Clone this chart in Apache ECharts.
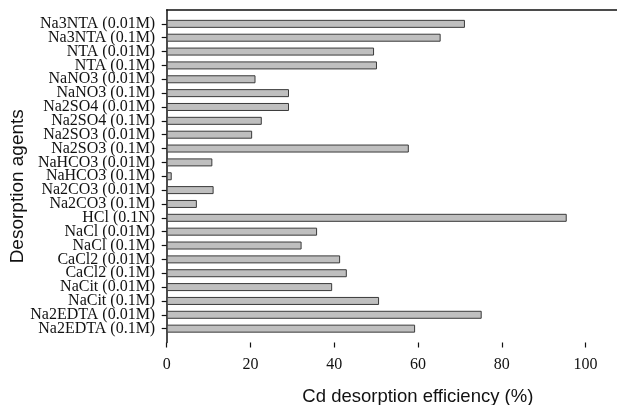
<!DOCTYPE html>
<html>
<head>
<meta charset="utf-8">
<title>Cd desorption</title>
<script src="https://cdn.jsdelivr.net/npm/echarts@6/dist/echarts.min.js"></script>
<style>
  html, body { margin: 0; padding: 0; background: #fff; }
</style>
</head>
<body>
<div id="main" style="width: 617px; height: 405px;"></div>
<script type="text/javascript">
  // agents, top to bottom
  var agents = [
    'Na3NTA (0.01M)', 'Na3NTA (0.1M)', 'NTA (0.01M)', 'NTA (0.1M)',
    'NaNO3 (0.01M)', 'NaNO3 (0.1M)', 'Na2SO4 (0.01M)', 'Na2SO4 (0.1M)',
    'Na2SO3 (0.01M)', 'Na2SO3 (0.1M)', 'NaHCO3 (0.01M)', 'NaHCO3 (0.1M)',
    'Na2CO3 (0.01M)', 'Na2CO3 (0.1M)', 'HCl (0.1N)', 'NaCl (0.01M)',
    'NaCl (0.1M)', 'CaCl2 (0.01M)', 'CaCl2 (0.1M)', 'NaCit (0.01M)',
    'NaCit (0.1M)', 'Na2EDTA (0.01M)', 'Na2EDTA (0.1M)'
  ];
  // Cd desorption efficiency (%)
  var efficiency = [
    71.2, 65.4, 49.5, 50.2,
    21.2, 29.2, 29.2, 22.7,
    20.4, 57.8, 10.9, 1.2,
    11.2, 7.2, 95.5, 35.9,
    32.2, 41.4, 43.0, 39.5,
    50.7, 75.2, 59.3
  ];
  var xTicks = [0, 20, 40, 60, 80, 100];

  // empty slot at each end gives the gap above the first and below the last bar
  var yCats = [''].concat(agents, ['']);
  var barData = efficiency.map(function (v, i) { return [v, i + 1]; });

  var myChart = echarts.init(document.getElementById('main'));
  myChart.setOption({
    animation: false,
    grid: { left: 166.7, top: 10, right: 0, bottom: 62.5, outerBoundsMode: 'none', containLabel: false },
    xAxis: [{
      type: 'value',
      position: 'bottom',
      min: 0,
      max: 107.5,
      interval: 20,
      name: 'Cd desorption efficiency (%)',
      nameLocation: 'middle',
      nameGap: 45,
      nameMoveOverlap: false,
      nameTextStyle: {
        fontFamily: 'Liberation Sans', fontSize: 18.5, color: '#111',
        padding: [0, 0, 0, 52]
      },
      splitLine: { show: false },
      axisLine: { lineStyle: { color: '#111', width: 1.5 } },
      axisTick: { show: true, length: 5, customValues: xTicks, lineStyle: { color: '#111', width: 1.2 } },
      axisLabel: {
        customValues: xTicks,
        margin: 14,
        fontFamily: 'Liberation Serif', fontSize: 16, color: '#111'
      }
    }, {
      type: 'value',
      position: 'top',
      min: 0,
      max: 107.5,
      axisLine: { show: true, lineStyle: { color: '#111', width: 1.5 } },
      axisTick: { show: false },
      axisLabel: { show: false },
      splitLine: { show: false }
    }],
    yAxis: {
      type: 'category',
      data: yCats,
      inverse: true,
      boundaryGap: false,
      name: 'Desorption agents',
      nameLocation: 'middle',
      nameGap: 139,
      nameMoveOverlap: false,
      nameRotate: 90,
      nameTextStyle: {
        fontFamily: 'Liberation Sans', fontSize: 19, color: '#111',
        padding: [0, 20, 0, 0]
      },
      splitLine: { show: false },
      axisLine: { lineStyle: { color: '#111', width: 1.5 } },
      axisTick: {
        show: true, length: 5,
        interval: function (idx) { return idx > 0 && idx < yCats.length - 1; },
        lineStyle: { color: '#111', width: 1.2 }
      },
      axisLabel: {
        interval: 0,
        margin: 11.5,
        fontFamily: 'Liberation Serif', fontSize: 16, color: '#111'
      }
    },
    series: [{
      type: 'bar',
      barWidth: 8,
      data: barData,
      itemStyle: { color: '#bfbfbf', borderColor: '#3a3a3a', borderWidth: 1 }
    }]
  });
</script>
</body>
</html>
